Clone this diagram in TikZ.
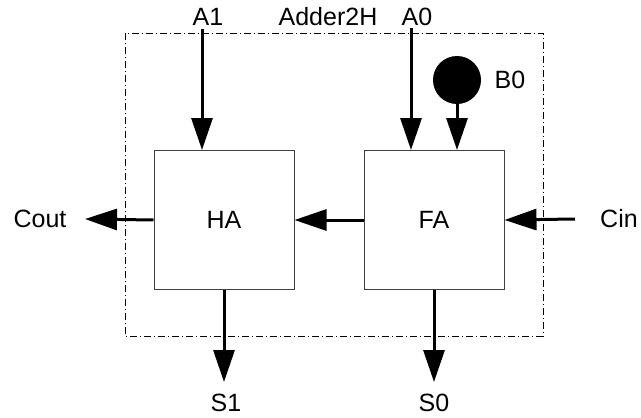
\documentclass[tikz,border=0pt]{standalone}
\usepackage{fontspec}
\setmainfont{Liberation Sans}
\usetikzlibrary{arrows.meta}
\begin{document}
\begin{tikzpicture}[x=1pt, y=-1pt, font=\fontsize{25}{29}\selectfont,
		wire/.style={-{Triangle[length=32pt, width=21pt]}, line width=3pt},
		block/.style={draw=black!75, line width=1pt, minimum width=140pt, minimum height=139pt}]
		\useasboundingbox (0,0) rectangle (641,418);
		\draw [line width=1pt, dash pattern=on 7pt off 3pt on 1pt off 3pt] (125,33) rectangle (543,336);
		\node [block] (ha) at (224,220) {HA};
		\node [block] (fa) at (434,220) {FA};
		\node [circle, fill=black, inner sep=0pt, minimum size=48pt] (b0) at (457,80) {};
		\coordinate (a1) at (202,29);
		\coordinate (a0) at (411,28);
		\coordinate (cout) at (85,219);
		\coordinate (cin) at (575,219);
		\coordinate (s1) at (224,382);
		\coordinate (s0) at (434,382);
		\draw [wire] (a1) -- (ha.north -| a1);
		\draw [wire] (a0) -- (fa.north -| a0);
		\draw [wire] (b0) -- (fa.north -| b0);
		\draw [wire] (fa.west) -- (ha.east);
		\draw [wire] (ha.west) -- (cout);
		\draw [wire] (cin) -- (fa.east);
		\draw [wire] (ha.south) -- (s1);
		\draw [wire] (fa.south) -- (s0);
		\node (a1label) at (208,17) {A1};
		\node (adderlabel) at (328,17) {Adder2H};
		\node (a0label) at (417,17) {A0};
		\node (b0label) at (510,80) {B0};
		\node (coutlabel) at (40,219) {Cout};
		\node (cinlabel) at (619,219) {Cin};
		\node (s1label) at (226,403) {S1};
		\node (s0label) at (434,403) {S0};
	\end{tikzpicture}
\end{document}
